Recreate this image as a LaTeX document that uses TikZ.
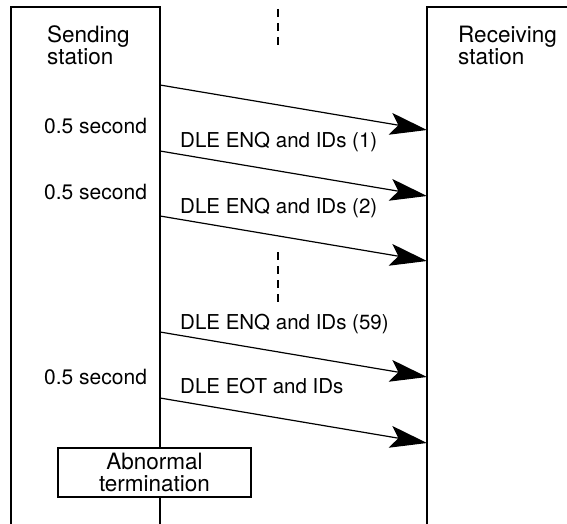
\documentclass[tikz,border=0pt]{standalone}
\usepackage{fontspec}
\setmainfont{TeX Gyre Heros}
\usetikzlibrary{arrows.meta}
\begin{document}
\begin{tikzpicture}[x=1pt,y=-1pt,
  line/.style={line width=1.3pt},
  msg/.style={line width=1.2pt,-{Stealth[length=37pt,width=22pt,inset=8pt]}},
  txt/.style={inner sep=0pt,font=\fontsize{20.5}{22}\selectfont,align=left},
  big/.style={font=\fontsize{22.5}{22.5}\selectfont},
  gapline/.style={line width=1.3pt,dash pattern=on 8pt off 6pt}]
\useasboundingbox (0,0) rectangle (567,524);
% stations
\draw[line] (11,524) -- (11,7) -- (160,7) -- (160,524);
\draw[line] (567,7) -- (427,7) -- (427,524);
\node[txt,big,anchor=base west] (snd) at (47,65) {Sending\\station};
\node[txt,big,anchor=base west] (rcv) at (458,65) {Receiving\\station};
% dashed gaps
\draw[gapline] (278,9) -- (278,48);
\draw[gapline] (278,252) -- (278,306);
% message end points
\coordinate (s1) at (160,85);  \coordinate (r1) at (427,130);
\coordinate (s2) at (160,151); \coordinate (r2) at (427,196);
\coordinate (s3) at (160,216); \coordinate (r3) at (427,261);
\coordinate (s4) at (160,332); \coordinate (r4) at (427,377);
\coordinate (s5) at (160,398); \coordinate (r5) at (427,443);
\draw[msg] (s1) -- (r1);
\draw[msg] (s2) -- (r2);
\draw[msg] (s3) -- (r3);
\draw[msg] (s4) -- (r4);
\draw[msg] (s5) -- (r5);
% labels
\node[txt,anchor=base west] (l1) at (180,147) {DLE ENQ and IDs (1)};
\node[txt,anchor=base west] (l2) at (180,213) {DLE ENQ and IDs (2)};
\node[txt,anchor=base west] (l3) at (180,329) {DLE ENQ and IDs (59)};
\node[txt,anchor=base west] (l4) at (180,393) {DLE EOT and IDs};
\node[txt,anchor=base west,font=\fontsize{21}{22}\selectfont] (t1) at (44,133) {0.5 second};
\node[txt,anchor=base west,font=\fontsize{21}{22}\selectfont] (t2) at (44,199) {0.5 second};
\node[txt,anchor=base west,font=\fontsize{21}{22}\selectfont] (t3) at (44,384) {0.5 second};
% abnormal termination
\node[draw,line width=1.3pt,fill=white,minimum width=193pt,minimum height=49pt,inner sep=0pt,
  font=\fontsize{22.5}{22}\selectfont,align=center] (ab) at (154.5,472.5) {Abnormal\\termination};
\end{tikzpicture}
\end{document}
